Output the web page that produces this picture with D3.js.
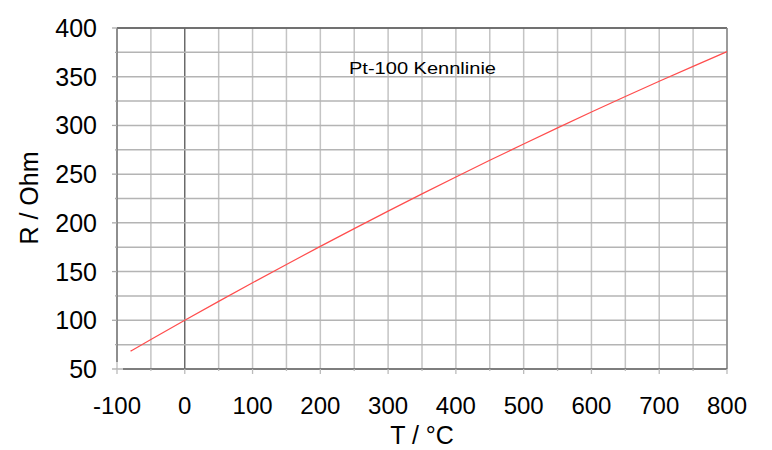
<!DOCTYPE html>
<html><head><meta charset="utf-8">
<script src="https://cdn.jsdelivr.net/npm/d3@7"></script>
<style>body{margin:0;background:#fff}svg{display:block}text{font-family:"Liberation Sans",Arial,sans-serif}</style>
</head><body>
<svg id="c" width="772" height="450"></svg>
<script>
const temperatures = [-80,-50,0,50,100,150,200,250,300,350,400,450,500,550,600,650,700,750,800];
const resistances = [68.33,80.31,100,119.40,138.51,157.33,175.86,194.10,212.05,229.72,247.09,264.18,280.98,297.49,313.71,329.64,345.28,360.64,375.70];
const xTicks = [-100,0,100,200,300,400,500,600,700,800];
const yTicks = [50,100,150,200,250,300,350,400];
const xGrid = d3.range(-100, 801, 50);
const yGrid = d3.range(50, 401, 25);
const title = "Pt-100 Kennlinie";

const svg = d3.select("#c");
const L=117, R=727, T=28, B=369;
const x = d3.scaleLinear().domain([-100,800]).range([L,R]);
const y = d3.scaleLinear().domain([50,400]).range([B,T]);

const g = svg.append("g");
// grid
g.selectAll(".vg").data(xGrid).join("line")
  .attr("x1",d=>x(d)).attr("x2",d=>x(d)).attr("y1",T).attr("y2",B)
  .attr("stroke",d=>d===0?"#555":"#c4c4c4").attr("stroke-width",d=>d===0?1.3:1.5);
g.selectAll(".hg").data(yGrid).join("line")
  .attr("x1",L).attr("x2",R).attr("y1",d=>y(d)).attr("y2",d=>y(d))
  .attr("stroke","#b4b4b4").attr("stroke-width",1.5);
// frame
g.append("line").attr("x1",L).attr("x2",R).attr("y1",T).attr("y2",T).attr("stroke","#555").attr("stroke-width",1.3);
g.append("line").attr("x1",R).attr("x2",R).attr("y1",T).attr("y2",B).attr("stroke","#888").attr("stroke-width",1.5);
g.append("line").attr("x1",L).attr("x2",L).attr("y1",T).attr("y2",B-7).attr("stroke","#777").attr("stroke-width",1.5);
g.append("line").attr("x1",L+6).attr("x2",R).attr("y1",B).attr("y2",B).attr("stroke","#666").attr("stroke-width",1.5);
// ticks
g.selectAll(".yt").data(yGrid).join("line")
  .attr("x1",d=>d%50===0?L-5:L-2).attr("x2",L).attr("y1",d=>y(d)).attr("y2",d=>y(d))
  .attr("stroke","#aaa").attr("stroke-width",1.3);
g.selectAll(".xt").data(xGrid).join("line")
  .attr("x1",d=>x(d)).attr("x2",d=>x(d)).attr("y1",B).attr("y2",d=>d%100===0?B+5:B+2)
  .attr("stroke","#bbb").attr("stroke-width",1.3);
// line
const pts = temperatures.map((t,i)=>[t,resistances[i]]);
g.append("path").datum(pts)
  .attr("d", d3.line().x(d=>x(d[0])).y(d=>y(d[1])).curve(d3.curveMonotoneX))
  .attr("fill","none").attr("stroke","#ff4d4d").attr("stroke-width",1.2);
// labels
g.selectAll(".yl").data(yTicks).join("text")
  .attr("x",97).attr("y",d=>y(d)+9).attr("text-anchor","end")
  .attr("font-size",25).attr("fill","#000").text(d=>d);
g.selectAll(".xl").data(xTicks).join("text")
  .attr("x",d=>x(d)).attr("y",414).attr("text-anchor","middle")
  .attr("font-size",24).attr("fill","#000").text(d=>d);
svg.append("text").attr("x",422).attr("y",444).attr("text-anchor","middle")
  .attr("font-size",25).text("T / °C");
svg.append("text").attr("transform","translate(38,198) rotate(-90)").attr("text-anchor","middle")
  .attr("font-size",25).text("R / Ohm");
svg.append("text").attr("x",349).attr("y",74)
  .attr("font-size",16).attr("textLength",147).attr("lengthAdjust","spacingAndGlyphs").text(title);
</script>
</body></html>
